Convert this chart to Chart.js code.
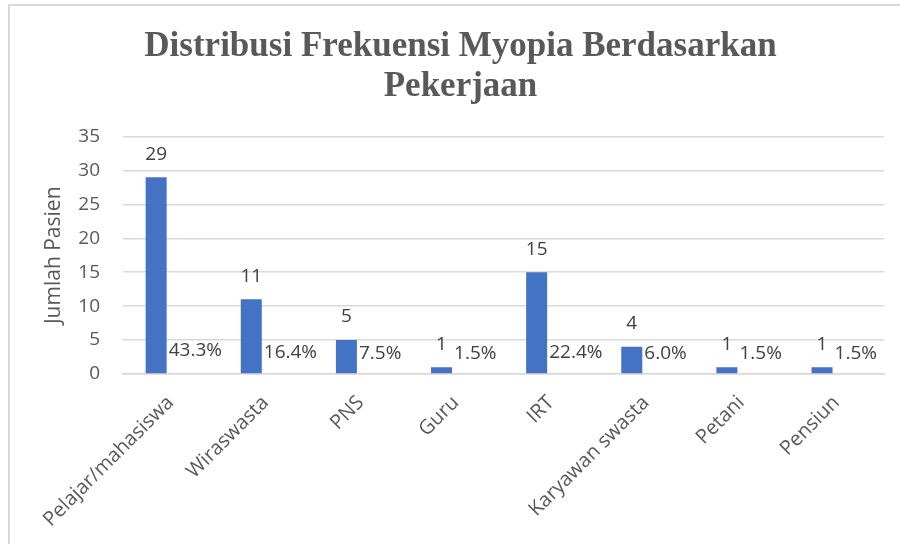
<!DOCTYPE html>
<html>
<head>
<meta charset="utf-8">
<script src="https://cdn.jsdelivr.net/npm/chart.js@4.4.1/dist/chart.umd.min.js"></script>
<style>
html,body{margin:0;padding:0;background:#fff;}
#wrap{width:900px;height:544px;position:relative;}
</style>
</head>
<body>
<div id="wrap"><canvas id="c" width="900" height="544"></canvas></div>
<script>
const categories = ["Pelajar/mahasiswa","Wiraswasta","PNS","Guru","IRT","Karyawan swasta","Petani","Pensiun"];
const counts = [29, 11, 5, 1, 15, 4, 1, 1];
const percents = [0.433, 0.164, 0.075, 0.015, 0.224, 0.060, 0.015, 0.015];
const titleLines = ["Distribusi Frekuensi Myopia Berdasarkan", "Pekerjaan"];
const yTitle = "Jumlah Pasien";

const frame = {
  id: 'frame',
  beforeDraw(chart) {
    const ctx = chart.ctx;
    ctx.save();
    ctx.strokeStyle = '#d9d9d9';
    ctx.lineWidth = 2;
    ctx.beginPath();
    ctx.moveTo(8, 5); ctx.lineTo(900, 5);
    ctx.moveTo(9, 4); ctx.lineTo(9, 544);
    ctx.stroke();
    ctx.restore();
  }
};

const labelsPlugin = {
  id: 'valueLabels',
  afterDatasetsDraw(chart) {
    const ctx = chart.ctx;
    ctx.save();
    ctx.font = '19px "Open Sans"';
    ctx.fillStyle = '#404040';
    const m0 = chart.getDatasetMeta(0);
    const m1 = chart.getDatasetMeta(1);
    m0.data.forEach((bar, i) => {
      ctx.textAlign = 'center';
      ctx.textBaseline = 'middle';
      ctx.fillText(String(counts[i]), bar.x, bar.y - 23);
    });
    m1.data.forEach((bar, i) => {
      const b0 = m0.data[i];
      ctx.textAlign = 'left';
      ctx.textBaseline = 'middle';
      ctx.fillText((percents[i] * 100).toFixed(1) + '%', b0.x + b0.width / 2 + 2, bar.y - 20);
    });
    ctx.restore();
  }
};

new Chart(document.getElementById('c'), {
  type: 'bar',
  data: {
    labels: categories,
    datasets: [
      { label: 'Jumlah', data: counts, backgroundColor: '#4472C4', categoryPercentage: 0.606, barPercentage: 0.729 },
      { label: 'Persen', data: percents, backgroundColor: 'rgba(0,0,0,0)', categoryPercentage: 0.606, barPercentage: 0.729 }
    ]
  },
  options: {
    responsive: false,
    animation: false,
    layout: { padding: { left: 37, right: 16, top: 0, bottom: 0 } },
    plugins: {
      legend: { display: false },
      tooltip: { enabled: false },
      title: {
        display: true,
        text: titleLines,
        color: '#595959',
        font: { family: '"Liberation Serif"', size: 35, weight: 'bold', lineHeight: 1.15 },
        padding: { top: 27, bottom: 29 }
      }
    },
    scales: {
      x: {
        grid: { display: false, drawTicks: false },
        border: { display: true, color: '#d9d9d9', width: 1.5 },
        ticks: { color: '#595959', font: { family: '"Open Sans"', size: 20 }, maxRotation: 45, minRotation: 45, padding: 17, autoSkip: false },
        afterFit(s) { s.height = 170; }
      },
      y: {
        min: 0, max: 35,
        grid: { color: '#d9d9d9', lineWidth: 1.5, drawTicks: false },
        border: { display: false },
        ticks: { stepSize: 5, color: '#595959', font: { family: '"Open Sans"', size: 19 }, padding: 23 },
        title: { display: true, text: yTitle, color: '#595959', font: { family: '"Open Sans"', size: 21 }, padding: { top: 4, bottom: 4 } },
        afterFit(s) { s.width = 86; }
      }
    }
  },
  plugins: [frame, labelsPlugin]
});
</script>
</body>
</html>
